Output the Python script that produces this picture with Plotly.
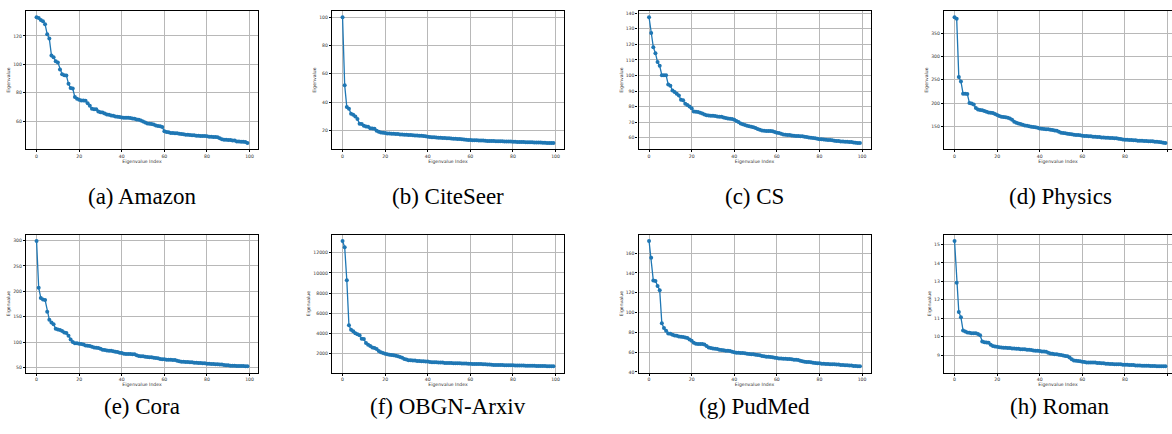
import plotly.graph_objects as go

index = list(range(100))

amazon = [133.1,132.6,131.2,130.3,128.2,121.2,118.1,106.2,105.0,102.2,
          101.3,96.4,93.1,92.4,92.2,86.3,83.3,83.0,77.0,75.8,
          75.1,74.6,74.6,74.4,72.7,70.9,68.8,68.5,68.5,66.9,
          66.4,66.2,65.5,64.8,64.6,64.1,63.9,63.4,63.2,62.9,
          62.7,62.5,62.5,62.5,62.2,62.0,61.8,61.3,61.1,60.6,
          59.9,59.2,58.5,58.2,58.0,57.8,57.1,56.6,56.4,55.9,
          52.9,52.4,52.2,51.7,51.7,51.5,51.5,51.2,51.0,50.8,
          50.5,50.5,50.3,50.1,50.1,49.8,49.8,49.6,49.6,49.6,
          49.4,49.1,49.1,48.9,48.9,48.7,48.0,47.3,47.0,47.0,
          46.8,46.8,46.5,46.5,45.8,45.8,45.6,45.6,45.4,44.7]

citeseer = [100,52,36.5,35.3,31.8,31.1,29.9,28,24.7,24.5,
            23.3,22.8,22.6,21.6,21.4,21.2,19.8,19.1,18.6,18.4,
            18.1,17.9,17.9,17.6,17.6,17.4,17.4,17.2,17.1,17.0,
            16.9,16.8,16.7,16.6,16.5,16.4,16.3,16.2,16.0,15.8,
            15.6,15.4,15.2,15.1,15.0,14.9,14.8,14.7,14.6,14.5,
            14.4,14.3,14.2,14.1,14.0,13.9,13.8,13.6,13.4,13.3,
            13.2,13.1,13.1,13.0,12.9,12.9,12.8,12.7,12.6,12.6,
            12.5,12.5,12.4,12.4,12.3,12.3,12.2,12.2,12.1,12.1,
            12.0,12.0,11.9,11.9,11.8,11.8,11.7,11.7,11.6,11.6,
            11.5,11.5,11.4,11.4,11.3,11.3,11.2,11.2,11.1,11.1]

cs = [137.4,127.2,118.2,114.3,108.6,106.2,100.2,100.2,100.2,94.2,
      93.4,90.4,89.3,88.2,87.2,84.4,84.0,81.8,81.0,80.1,
      79.0,76.9,76.7,76.5,76.0,75.6,75.0,74.5,74.3,74.1,
      74.1,73.9,73.7,73.5,73.5,73.0,72.6,72.4,72.2,72.0,
      71.6,70.7,70.1,69.2,68.6,68.1,67.7,67.3,67.1,66.8,
      66.2,65.6,65.1,64.7,64.5,64.3,64.3,64.3,64.1,63.6,
      63.2,63.0,62.6,62.1,61.9,61.7,61.7,61.5,61.3,61.1,
      61.1,60.9,60.9,60.6,60.4,60.2,60.0,59.8,59.6,59.4,
      59.1,59.1,58.9,58.7,58.5,58.5,58.3,58.1,57.9,57.9,
      57.6,57.6,57.4,57.4,57.2,57.2,57.0,56.8,56.6,56.6]

physics = [384,381,255.7,246.4,220,220,219.3,200,199.3,197.1,
           189.3,186.4,185,184.3,182.9,181.4,180,179.3,178.6,176.4,
           174.3,172.1,170.7,170,169.3,168.6,167.1,164.3,160,157.9,
           156.4,155,153.6,152.1,151.4,150,149.3,148.6,147.9,147.1,
           145.7,145,144.3,143.6,143.6,142.9,142.1,141.4,140.7,138.6,
           136.4,135.7,135,134.3,133.6,132.9,132.1,131.4,131.4,130.7,
           130,129.3,129.3,128.6,128.6,127.9,127.9,127.1,127.1,126.4,
           126.4,125.7,125.7,125,125,124.3,124.3,123.6,122.9,122.1,
           121.4,121.4,120.7,120.7,120,120,119.3,119.3,119.3,118.6,
           118.6,117.9,117.9,117.9,117.1,117.1,116.4,115.7,115,114.3]

cora = [299.3,207.3,187,183.8,183.2,159.7,144,138.8,135.5,126.4,
        125.1,123.8,121.8,119.2,117.9,112.7,105.5,100.3,97.7,97.7,
        97,96.3,95.7,93.7,93.1,92.4,91.1,89.8,89.2,88.5,
        87.2,85.2,84.6,83.9,83.3,83.3,82,81.3,80.7,79.4,
        78.7,77.4,76.8,76.8,76.8,76.1,76.1,74.2,72.8,72.2,
        72.2,71.5,70.9,70.2,70.2,69.6,68.9,68.3,67,66.3,
        66.3,65.7,65.7,65.7,65,65,63.7,62.4,61.7,61.7,
        61.1,61.1,60.4,60.4,59.8,59.8,59.1,59.1,58.5,58.5,
        57.8,57.8,57.2,57.2,56.5,56.5,55.9,55.9,55.2,54.6,
        54.6,53.9,53.9,53.9,53.3,53.3,53.3,53.3,52.6,52.6]

arxiv = [13184,12559,9270,4796,4336,4204,4007,3908,3809,3447,
         3414,3020,2855,2724,2592,2526,2428,2230,2099,2033,
         1967,1901,1868,1836,1803,1770,1704,1638,1572,1441,
         1375,1309,1309,1276,1276,1243,1243,1211,1211,1178,
         1178,1145,1112,1112,1112,1079,1079,1079,1046,1046,
         1046,1046,1013,1013,1013,1013,1000,990,980,970,
         960,950,945,940,935,930,920,910,900,880,
         860,850,845,840,835,830,825,820,815,810,
         805,800,795,790,785,780,775,770,765,760,
         755,750,745,740,735,730,725,720,715,710]

pubmed = [172.4,155.3,132.5,131.9,126.8,122.5,89.3,84.3,81.6,78.9,
          78.6,77.5,76.9,76.5,75.9,75.5,75.2,74.9,74.2,72.9,
          71.5,69.5,68.5,68.2,68.2,68.2,67.8,66.1,64.8,64.1,
          63.8,63.5,63.1,62.5,62.1,61.8,61.5,61.5,61.1,60.4,
          59.8,59.4,59.4,59.1,59.1,58.8,58.4,58.1,57.8,57.8,
          57.4,57.1,56.8,56.1,55.8,55.4,55.4,55.1,54.8,54.4,
          54.1,53.7,53.7,53.4,53.4,53.1,53.1,52.7,52.4,52.4,
          52.1,51.4,50.7,50.4,50.1,50.1,49.7,49.4,49.1,48.7,
          48.7,48.4,48.4,48.0,48.0,47.7,47.7,47.7,47.4,47.4,
          47.0,47.0,46.7,46.7,46.4,46.4,46.0,46.0,45.7,45.7]

roman = [15.2,12.93,11.34,11.05,10.33,10.28,10.23,10.21,10.19,10.19,
         10.19,10.15,10.08,9.74,9.70,9.68,9.67,9.56,9.49,9.47,
         9.45,9.43,9.41,9.40,9.40,9.38,9.38,9.36,9.36,9.34,
         9.34,9.32,9.32,9.31,9.29,9.29,9.27,9.25,9.23,9.23,
         9.22,9.20,9.20,9.18,9.13,9.09,9.07,9.05,9.04,9.02,
         9.0,8.98,8.95,8.93,8.87,8.77,8.71,8.69,8.68,8.66,
         8.64,8.62,8.60,8.60,8.59,8.59,8.59,8.57,8.57,8.55,
         8.55,8.53,8.53,8.51,8.51,8.50,8.50,8.50,8.50,8.48,
         8.48,8.48,8.46,8.46,8.46,8.44,8.44,8.44,8.42,8.42,
         8.42,8.42,8.41,8.41,8.41,8.39,8.39,8.39,8.39,8.39]

captions = ["(a) Amazon", "(b) CiteSeer", "(c) CS", "(d) Physics",
            "(e) Cora", "(f) OBGN-Arxiv", "(g) PudMed", "(h) Roman"]
series = [amazon, citeseer, cs, physics, cora, arxiv, pubmed, roman]
y_dticks = [20, 20, 10, 50, 50, 2000, 20, 1]

for s in series:
    assert len(s) == 100

W, H = 1172, 434
col_left = [26, 332, 638.5, 944]
frame_w = 232
rows = [(11, 150), (235.7, 374.3)]
x_lo, x_hi = -4.95, 103.95

fig = go.Figure()
layout = dict(width=W, height=H, margin=dict(l=0, r=0, t=0, b=0),
              paper_bgcolor="white", plot_bgcolor="white", showlegend=False,
              font=dict(family="DejaVu Sans", color="#333333", size=4.6))
annotations = []
tick_font = dict(family="DejaVu Sans", size=4.6, color="#333333")
cap_font = dict(family="Liberation Serif, Times New Roman, Nimbus Roman, DejaVu Serif, serif",
                size=23, color="black")

for k, (vals, cap, dt) in enumerate(zip(series, captions, y_dticks)):
    r, c = divmod(k, 4)
    left = col_left[c]
    right = left + frame_w
    xr_hi = x_hi
    clipped = False
    if right > W:
        xr_hi = x_lo + (x_hi - x_lo) * (W - left) / frame_w
        right = W
        clipped = True
    top, bot = rows[r]
    n = k + 1
    xa = "xaxis" if n == 1 else f"xaxis{n}"
    ya = "yaxis" if n == 1 else f"yaxis{n}"
    xref = "x" if n == 1 else f"x{n}"
    yref = "y" if n == 1 else f"y{n}"
    lo, hi = min(vals), max(vals)
    span = hi - lo
    yr = [lo - 0.05 * span, hi + 0.05 * span]

    fig.add_trace(go.Scatter(x=index, y=vals, mode="lines+markers",
                             line=dict(color="#1f77b4", width=1.3),
                             marker=dict(color="#1f77b4", size=4),
                             xaxis=xref, yaxis=yref, cliponaxis=True))

    layout[xa] = dict(domain=[left / W, right / W], anchor=yref,
                      range=[x_lo, xr_hi], dtick=20, tick0=0,
                      showgrid=True, gridcolor="#b8b8b8", gridwidth=1.2,
                      zeroline=False, showline=True, linecolor="black",
                      linewidth=1.2, mirror=True, ticks="outside",
                      ticklen=2, tickwidth=0.6, tickcolor="black",
                      tickfont=tick_font,
                      title=dict(text="Eigenvalue Index", font=tick_font, standoff=1))
    layout[ya] = dict(domain=[1 - bot / H, 1 - top / H], anchor=xref,
                      range=yr, dtick=dt, tick0=0, tickformat="d",
                      showgrid=True, gridcolor="#b8b8b8", gridwidth=1.2,
                      zeroline=False, showline=True, linecolor="black",
                      linewidth=1.2, mirror=not clipped, ticks="outside",
                      ticklen=2, tickwidth=0.6, tickcolor="black",
                      tickfont=tick_font,
                      title=dict(text="Eigenvalue", font=tick_font, standoff=2))
    cap_y = 197 if r == 0 else 408
    annotations.append(dict(text=cap, xref="paper", yref="paper",
                            x=(col_left[c] + frame_w / 2) / W, y=1 - cap_y / H,
                            xanchor="center", yanchor="middle", showarrow=False,
                            font=cap_font))

layout["annotations"] = annotations
fig.update_layout(**layout)
fig.write_html("out.html")
